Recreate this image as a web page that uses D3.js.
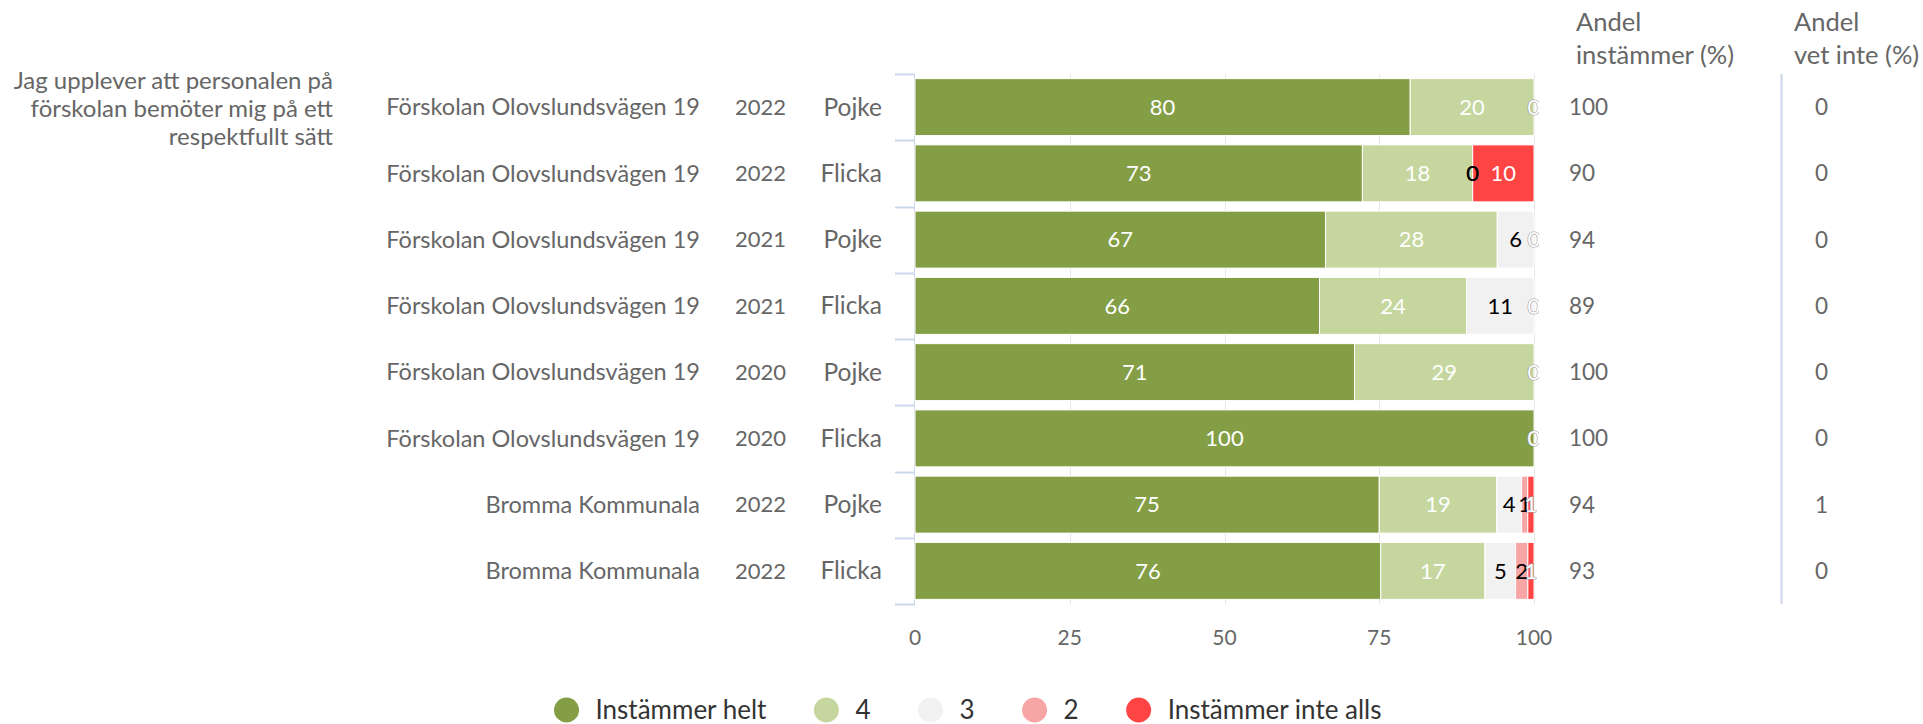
<!DOCTYPE html>
<html>
<head>
<meta charset="utf-8">
<script src="https://cdn.jsdelivr.net/npm/d3@7"></script>
<style>
  html, body { margin: 0; padding: 0; background: #fff; }
  svg { display: block; font-family: Lato, "Open Sans", sans-serif; }
</style>
</head>
<body>
<svg id="chart" width="1923" height="724"></svg>
<script>
// Question shown to the left of the rows
const questionLines = ["Jag upplever att personalen på", "förskolan bemöter mig på ett", "respektfullt sätt"];

// Row descriptors
const schools = ["Förskolan Olovslundsvägen 19", "Förskolan Olovslundsvägen 19", "Förskolan Olovslundsvägen 19",
  "Förskolan Olovslundsvägen 19", "Förskolan Olovslundsvägen 19", "Förskolan Olovslundsvägen 19",
  "Bromma Kommunala", "Bromma Kommunala"];
const years = ["2022", "2022", "2021", "2021", "2020", "2020", "2022", "2022"];
const genders = ["Pojke", "Flicka", "Pojke", "Flicka", "Pojke", "Flicka", "Pojke", "Flicka"];

// Answer shares (%) per response option; null = no answers reported
const seriesNames = ["Instämmer helt", "4", "3", "2", "Instämmer inte alls"];
const seriesColors = ["#839e45", "#c5d79e", "#f1f1f1", "#f8a5a5", "#ff4444"];
const labelColors = ["#ffffff", "#ffffff", "#000000", "#000000", "#ffffff"];
const helt = [80, 73, 67, 66, 71, 100, 75, 76];
const four = [20, 18, 28, 24, 29, null, 19, 17];
const three = [null, 0, 6, 11, null, null, 4, 5];
const two = [null, 0, null, null, null, null, 1, 2];
const inteAlls = [0, 10, 0, 0, 0, 0, 1, 1];

// Summary columns
const andelInstammer = [100, 90, 94, 89, 100, 100, 94, 93];
const andelVetInte = [0, 0, 0, 0, 0, 0, 1, 0];

const xTicks = [0, 25, 50, 75, 100];

const seriesValues = [helt, four, three, two, inteAlls];

const svg = d3.select("#chart");
const textColor = "#666666";

const x = d3.scaleLinear().domain([0, 100]).range([915, 1534]);
const rows = d3.range(schools.length);
const y = d3.scaleBand().domain(rows).range([74, 604]).paddingInner(0.14).paddingOuter(0.07);

// Gridlines
svg.append("g").selectAll("line").data(xTicks.slice(1)).join("line")
  .attr("x1", d => Math.round(x(d)) + 0.5).attr("x2", d => Math.round(x(d)) + 0.5)
  .attr("y1", 74).attr("y2", 604)
  .attr("stroke", "#e6e6e6").attr("stroke-width", 1);

// Category axis line and ticks at band boundaries
svg.append("line").attr("x1", 914.5).attr("x2", 914.5).attr("y1", 74).attr("y2", 604)
  .attr("stroke", "#ccd6eb");
svg.append("g").selectAll("line").data(d3.range(rows.length + 1)).join("line")
  .attr("x1", 895).attr("x2", 915)
  .attr("y1", i => Math.round(74 + i * (530 / rows.length)) + 0.5)
  .attr("y2", i => Math.round(74 + i * (530 / rows.length)) + 0.5)
  .attr("stroke", "#ccd6eb").attr("stroke-width", 2);

// Stack the series, normalised per row to 100 %
const stacked = rows.map(r => {
  const vals = seriesValues.map(s => s[r]);
  const total = d3.sum(vals.filter(v => v != null));
  let acc = 0;
  return vals.map((v, si) => {
    const start = acc;
    const w = v == null ? 0 : v / total * 100;
    acc += w;
    return { row: r, si, value: v, x0: start, x1: acc };
  });
});
const segments = stacked.flat().filter(d => d.value != null);

svg.append("g").selectAll("rect").data(segments.filter(d => d.value > 0)).join("rect")
  .attr("x", d => x(d.x0))
  .attr("width", d => x(d.x1) - x(d.x0))
  .attr("y", d => y(d.row))
  .attr("height", y.bandwidth())
  .attr("fill", d => seriesColors[d.si])
  .attr("stroke", "#ffffff").attr("stroke-width", 1);

// Data labels, clipped to the plot area
svg.append("clipPath").attr("id", "plotClip")
  .append("rect").attr("x", 905).attr("y", 60).attr("width", 634).attr("height", 560);

const labels = svg.append("g").attr("clip-path", "url(#plotClip)")
  .attr("font-size", 22).attr("text-anchor", "middle");
labels.selectAll("text").data(segments).join("text")
  .attr("x", d => x((d.x0 + d.x1) / 2))
  .attr("y", d => y(d.row) + y.bandwidth() / 2)
  .attr("dy", "0.35em")
  .attr("fill", d => labelColors[d.si])
  .attr("stroke", d => (labelColors[d.si] === "#ffffff" && (x(d.x1) - x(d.x0)) < 14) ? "#999" : "none")
  .attr("stroke-width", 1.2)
  .attr("paint-order", "stroke")
  .text(d => d.value);

// Row labels
const cy = r => y(r) + y.bandwidth() / 2;
const rowLabels = svg.append("g").attr("fill", textColor).attr("text-anchor", "end");
rowLabels.selectAll(".school").data(rows).join("text").attr("class", "school")
  .attr("font-size", 23.5)
  .attr("x", 700).attr("y", cy).attr("dy", "0.35em").text(r => schools[r]);
rowLabels.selectAll(".year").data(rows).join("text").attr("class", "year")
  .attr("font-size", 22)
  .attr("x", 786).attr("y", cy).attr("dy", "0.35em").text(r => years[r]);
rowLabels.selectAll(".gender").data(rows).join("text").attr("class", "gender")
  .attr("font-size", 24.5)
  .attr("x", 882).attr("y", cy).attr("dy", "0.35em").text(r => genders[r]);

// Question text
svg.append("g").attr("font-size", 24).attr("fill", textColor).attr("text-anchor", "end")
  .selectAll("text").data(questionLines).join("text")
  .attr("x", 333).attr("y", (d, i) => 81 + i * 28).attr("dy", "0.35em").text(d => d);

// X axis tick labels
svg.append("g").attr("font-size", 21).attr("fill", textColor).attr("text-anchor", "middle")
  .selectAll("text").data(xTicks).join("text")
  .attr("x", d => x(d)).attr("y", 638).attr("dy", "0.35em").text(d => d);

// Summary columns
const headers = [
  { x: 1576, lines: ["Andel", "instämmer (%)"] },
  { x: 1794, lines: ["Andel", "vet inte (%)"] }
];
headers.forEach(h => {
  svg.append("g").attr("font-size", 25.5).attr("fill", textColor)
    .selectAll("text").data(h.lines).join("text")
    .attr("x", h.x).attr("y", (d, i) => 22 + i * 33).attr("dy", "0.35em").text(d => d);
});
svg.append("g").attr("font-size", 22.5).attr("fill", textColor)
  .selectAll("text").data(rows).join("text")
  .attr("x", 1569).attr("y", cy).attr("dy", "0.35em").text(r => andelInstammer[r]);
svg.append("g").attr("font-size", 22.5).attr("fill", textColor)
  .selectAll("text").data(rows).join("text")
  .attr("x", 1815).attr("y", cy).attr("dy", "0.35em").text(r => andelVetInte[r]);
svg.append("line").attr("x1", 1781.5).attr("x2", 1781.5).attr("y1", 74).attr("y2", 604)
  .attr("stroke", "#ccd6eb").attr("stroke-width", 2);

// Legend, centred horizontally
const legend = svg.append("g").attr("font-size", 26);
let cursor = 0;
seriesNames.forEach((name, i) => {
  const g = legend.append("g");
  g.append("circle").attr("cx", 0).attr("cy", 710).attr("r", 12.5).attr("fill", seriesColors[i]);
  const t = g.append("text").attr("x", 29).attr("y", 710).attr("dy", "0.35em").attr("fill", "#333").text(name);
  const w = t.node().getComputedTextLength();
  g.attr("transform", `translate(${cursor},0)`);
  cursor += 29 + w + 60;
});
const legendWidth = cursor - 60 + 12;
legend.attr("transform", `translate(${968 - legendWidth / 2 + 12},0)`);
</script>
</body>
</html>
